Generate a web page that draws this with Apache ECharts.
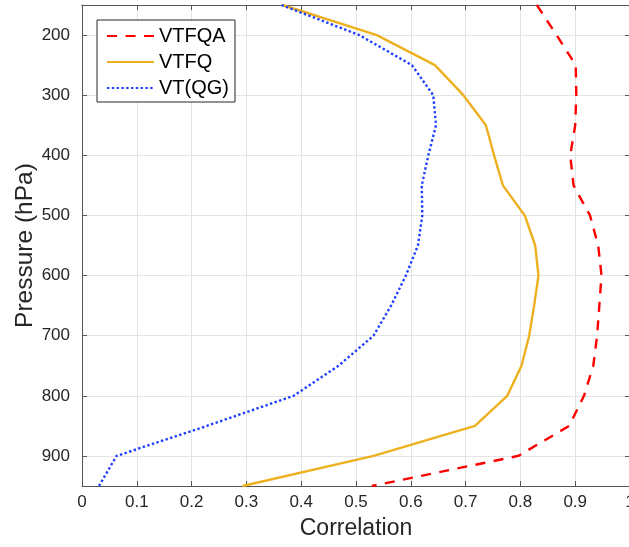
<!DOCTYPE html>
<html>
<head>
<meta charset="utf-8">
<script src="https://cdn.jsdelivr.net/npm/echarts@6/dist/echarts.min.js"></script>
<style>html,body{margin:0;padding:0;background:#fff;}#c{width:629px;height:547px;}</style>
</head>
<body>
<div id="c"></div>
<script>
const pressure = [150, 200, 250, 300, 350, 400, 450, 500, 550, 600, 650, 700, 750, 800, 850, 900, 950];
const vtfqa = [0.830, 0.866, 0.901, 0.902, 0.900, 0.891, 0.897, 0.927, 0.942, 0.948, 0.944, 0.940, 0.933, 0.916, 0.889, 0.796, 0.529];
const vtfq  = [0.366, 0.538, 0.644, 0.696, 0.737, 0.752, 0.768, 0.808, 0.827, 0.833, 0.825, 0.816, 0.802, 0.776, 0.717, 0.532, 0.293];
const vtqg  = [0.364, 0.506, 0.602, 0.641, 0.646, 0.632, 0.620, 0.621, 0.613, 0.591, 0.564, 0.532, 0.468, 0.386, 0.228, 0.063, 0.031];
const seriesNames = ['VTFQA', 'VTFQ', 'VT(QG)'];

const FONT = 'Liberation Sans, Arial, Helvetica, sans-serif';
const pairs = arr => arr.map((v, i) => [v, pressure[i]]);

const chart = echarts.init(document.getElementById('c'), null, {renderer: 'canvas'});
const axisCol = '#555555';
const txtCol = '#262626';
const gridCol = '#e3e3e3';

chart.setOption({
  backgroundColor: '#ffffff',
  animation: false,
  grid: {left: 82, top: 5, width: 548, bottom: 61, containLabel: false, outerBoundsMode: 'none'},
  legend: {
    orient: 'vertical', left: 97, top: 20,
    data: seriesNames,
    itemWidth: 47, itemHeight: 14, itemGap: 6,
    padding: [6, 6, 4, 9],
    backgroundColor: '#ffffff', borderColor: '#262626', borderWidth: 1,
    itemStyle: {opacity: 0},
    textStyle: {fontFamily: FONT, fontSize: 20, color: '#000'}
  },
  xAxis: [{
    type: 'value', min: 0, max: 1, interval: 0.1, position: 'bottom',
    name: 'Correlation', nameLocation: 'middle', nameGap: 31, nameMoveOverlap: false,
    nameTextStyle: {fontFamily: FONT, fontSize: 23, color: txtCol},
    axisLine: {show: true, onZero: false, lineStyle: {color: axisCol, width: 1}},
    axisTick: {show: true, inside: true, length: 5, lineStyle: {color: axisCol}},
    axisLabel: {fontFamily: FONT, fontSize: 17, color: txtCol, margin: 8},
    splitLine: {show: true, lineStyle: {color: gridCol, width: 1}}
  }, {
    type: 'value', min: 0, max: 1, interval: 0.1, position: 'top',
    axisLine: {show: true, onZero: false, lineStyle: {color: axisCol, width: 1}},
    axisTick: {show: true, inside: true, length: 5, lineStyle: {color: axisCol}},
    axisLabel: {show: false}, splitLine: {show: false}
  }],
  yAxis: [{
    type: 'value', inverse: true, min: 150, max: 950, minInterval: 100, maxInterval: 100,
    position: 'left',
    name: 'Pressure (hPa)', nameLocation: 'middle', nameGap: 44, nameRotate: 90, nameMoveOverlap: false,
    nameTextStyle: {fontFamily: FONT, fontSize: 24.5, color: txtCol},
    axisLine: {show: true, onZero: false, lineStyle: {color: axisCol, width: 1}},
    axisTick: {show: true, inside: true, length: 5, lineStyle: {color: axisCol}},
    axisLabel: {fontFamily: FONT, fontSize: 17, color: txtCol, margin: 12, showMinLabel: false, showMaxLabel: false},
    splitLine: {show: true, lineStyle: {color: gridCol, width: 1}}
  }, {
    type: 'value', inverse: true, min: 150, max: 950, minInterval: 100, maxInterval: 100,
    position: 'right',
    axisLine: {show: true, onZero: false, lineStyle: {color: axisCol, width: 1}},
    axisTick: {show: true, inside: true, length: 5, lineStyle: {color: axisCol}},
    axisLabel: {show: false}, splitLine: {show: false}
  }],
  series: [{
    name: seriesNames[0], type: 'line', data: pairs(vtfqa), showSymbol: false, symbol: 'none',
    lineStyle: {color: '#ff0000', width: 2.4, type: [10, 8.5]}, itemStyle: {color: '#ff0000'}
  }, {
    name: seriesNames[1], type: 'line', data: pairs(vtfq), showSymbol: false, symbol: 'none',
    lineStyle: {color: '#EDB120', width: 2.4, type: 'solid'}, itemStyle: {color: '#EDB120'}
  }, {
    name: seriesNames[2], type: 'line', data: pairs(vtqg), showSymbol: false, symbol: 'none',
    lineStyle: {color: '#1f3fff', width: 2.4, type: [2.4, 2.4]}, itemStyle: {color: '#1f3fff'}
  }]
});
</script>
</body>
</html>
